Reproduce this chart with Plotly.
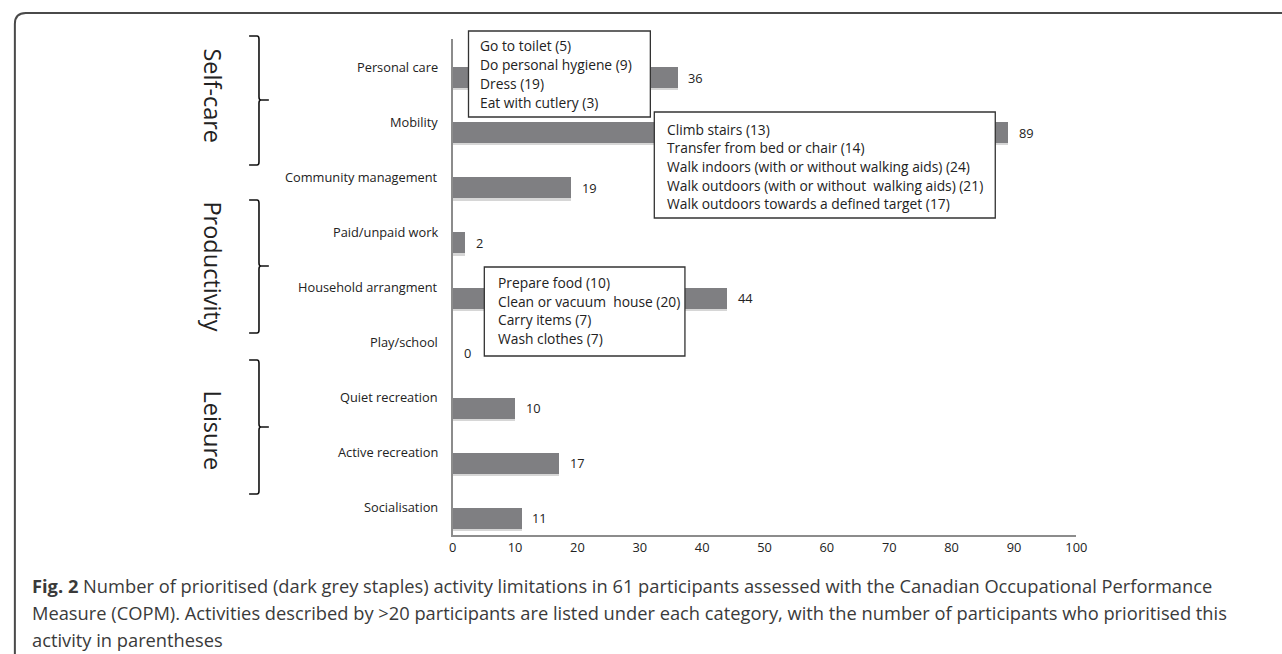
import plotly.graph_objects as go

# ---------------- data ----------------
categories = ["Personal care", "Mobility", "Community management", "Paid/unpaid work",
              "Household arrangment", "Play/school", "Quiet recreation",
              "Active recreation", "Socialisation"]
values = [36, 89, 19, 2, 44, 0, 10, 17, 11]
x_ticks = [0, 10, 20, 30, 40, 50, 60, 70, 80, 90, 100]

groups = ["Self-care", "Productivity", "Leisure"]

box_personal = ["Go to toilet (5)", "Do personal hygiene (9)", "Dress (19)", "Eat with cutlery (3)"]
box_mobility = ["Climb stairs (13)", "Transfer from bed or chair (14)",
                "Walk indoors (with or without walking aids) (24)",
                "Walk outdoors (with or without  walking aids) (21)",
                "Walk outdoors towards a defined target (17)"]
box_household = ["Prepare food (10)", "Clean or vacuum  house (20)", "Carry items (7)", "Wash clothes (7)"]

caption_lines = [
    "<b>Fig. 2</b> Number of prioritised (dark grey staples) activity limitations in 61 participants assessed with the Canadian Occupational Performance",
    "Measure (COPM). Activities described by >20 participants are listed under each category, with the number of participants who prioritised this",
    "activity in parentheses",
]

# ---------------- layout helpers ----------------
W, H = 1282, 654
def px(x):
    return x / W
def py(y):
    return 1 - y / H

FONT = "Open Sans"
TXT = "#222222"
BAR_W = 0.382
BAR_OFF = 0.009

fig = go.Figure()

# light shadow under bars
fig.add_trace(go.Bar(
    x=values, y=categories, orientation="h", width=BAR_W, offset=BAR_OFF + 0.04,
    marker=dict(color="#d6d6d6", line=dict(width=0)), hoverinfo="skip", showlegend=False))
fig.add_trace(go.Bar(
    x=values, y=categories, orientation="h", width=BAR_W, offset=BAR_OFF,
    marker=dict(color="#7f7f82", line=dict(width=0)), showlegend=False))

annotations = []
# category labels
for c in categories:
    annotations.append(dict(x=0, y=c, xref="x", yref="y", text=c, showarrow=False,
                            xanchor="right", yanchor="middle", xshift=-13,
                            font=dict(family=FONT, size=12.8, color=TXT)))
# value labels
for c, v in zip(categories, values):
    annotations.append(dict(x=v, y=c, xref="x", yref="y", text=str(v), showarrow=False,
                            xanchor="left", yanchor="middle", xshift=9, yshift=-11,
                            font=dict(family=FONT, size=12.8, color=TXT)))

shapes = []
# text boxes: (lines, left, top, right, bottom, text_x, first_line_y, line_step)
boxes = [
    (box_personal, 470, 31, 654, 117, 480, 45.7, 18.8),
    (box_mobility, 658, 112, 1003, 218, 669, 129, 18.7),
    (box_household, 486, 267, 689, 356, 498, 282.3, 18.7),
]
for lines, l, t, r, b, tx, ty, step in boxes:
    shapes.append(dict(type="rect", xref="paper", yref="paper",
                       x0=px(l), x1=px(r), y0=py(b), y1=py(t),
                       line=dict(color="#333333", width=1.3), fillcolor="white", layer="above"))
    for i, s in enumerate(lines):
        annotations.append(dict(x=px(tx), y=py(ty + i * step), xref="paper", yref="paper",
                                text=s, showarrow=False, xanchor="left", yanchor="middle",
                                font=dict(family=FONT, size=13.8, color=TXT)))

# braces and group labels
braces = [(36, 100, 165, 96), (200, 266, 333, 266), (360, 427, 494, 430)]
xe, xv, xt = 248, 258, 268
for g, (top, tip, bot, lab_y) in zip(groups, braces):
    path = (f"M {px(xe)},{py(top)} L {px(xv-2)},{py(top)} Q {px(xv)},{py(top)} {px(xv)},{py(top+3)} "
            f"L {px(xv)},{py(tip-3)} Q {px(xv)},{py(tip)} {px(xv+2)},{py(tip)} L {px(xt)},{py(tip)} "
            f"M {px(xv+2)},{py(tip)} Q {px(xv)},{py(tip)} {px(xv)},{py(tip+3)} "
            f"L {px(xv)},{py(bot-3)} Q {px(xv)},{py(bot)} {px(xv-2)},{py(bot)} L {px(xe)},{py(bot)}")
    shapes.append(dict(type="path", xref="paper", yref="paper", path=path,
                       line=dict(color="#111111", width=1.6)))
    annotations.append(dict(x=px(211), y=py(lab_y), xref="paper", yref="paper", text=g,
                            showarrow=False, textangle=90, xanchor="center", yanchor="middle",
                            font=dict(family=FONT, size=23.5, color=TXT)))

# outer frame (rounded top-left corner, open to right and bottom)
frame = (f"M {px(11)},{py(700)} L {px(11)},{py(24)} Q {px(11)},{py(13)} {px(22)},{py(13)} "
         f"L {px(1300)},{py(13)}")
shapes.append(dict(type="path", xref="paper", yref="paper", path=frame,
                   line=dict(color="#4a4a4a", width=2)))

# caption
cap_y = [585, 612, 639]
for s, yy in zip(caption_lines, cap_y):
    annotations.append(dict(x=px(26), y=py(yy), xref="paper", yref="paper", text=s,
                            showarrow=False, xanchor="left", yanchor="middle",
                            font=dict(family=FONT, size=18.3, color="#3a3a3a")))

fig.update_layout(
    width=W, height=H, margin=dict(l=0, r=0, t=0, b=0),
    paper_bgcolor="white", plot_bgcolor="white",
    barmode="overlay", bargap=0,
    annotations=annotations, shapes=shapes,
    xaxis=dict(domain=[px(454), px(1085)], range=[0, 100], tickvals=x_ticks,
               showgrid=False, zeroline=False, showline=True, linecolor="#8c8c8c", linewidth=1.5,
               ticks="", tickfont=dict(family=FONT, size=12.8, color=TXT), fixedrange=True),
    yaxis=dict(domain=[py(535), py(39)], range=[8.5, -0.5], type="category",
               categoryorder="array", categoryarray=categories,
               showgrid=False, zeroline=False, showline=True, linecolor="#8c8c8c", linewidth=1.5,
               showticklabels=False, ticks="", fixedrange=True),
    showlegend=False,
)

fig.write_html("out.html", config={"displayModeBar": False},
               post_script="document.body.style.margin='0';document.body.style.overflow='hidden';")
